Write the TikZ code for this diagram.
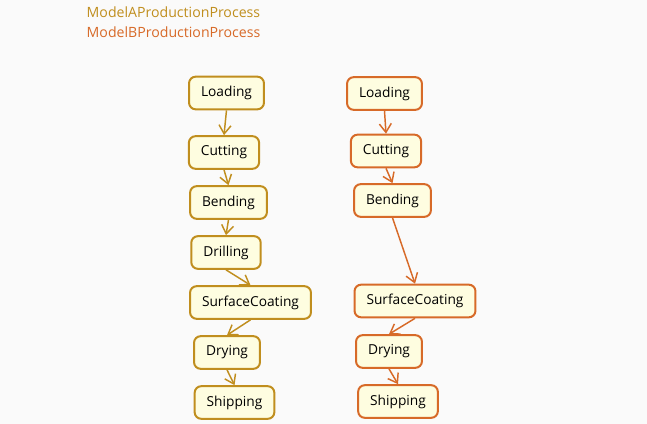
\documentclass[tikz,border=0pt]{standalone}
\usepackage{fontspec}
\setmainfont{Open Sans}
\usetikzlibrary{arrows.meta}
\definecolor{modelA}{RGB}{192,142,30}
\definecolor{modelB}{RGB}{215,106,40}
\definecolor{stepfill}{RGB}{254,253,224}
\tikzset{
  state/.style={draw,rounded corners=5pt,fill=stepfill,line width=1.5pt,
    minimum height=24.5pt,inner xsep=9pt,font=\fontsize{10.3}{12}\selectfont},
  flow/.style={line width=1.1pt,-{Straight Barb[length=6.5pt,width=9pt]}}
}
\begin{document}
\begin{tikzpicture}[x=0.75pt,y=-0.75pt]
\fill[black!2] (0,0) rectangle (647,424);
\useasboundingbox (0,0) rectangle (647,424);

\node[anchor=west,text=modelA,font=\fontsize{10.6}{12}\selectfont] (titleA) at (82,12.5) {ModelAProductionProcess};
\node[anchor=west,text=modelB,font=\fontsize{10.6}{12}\selectfont] (titleB) at (82,32.5) {ModelBProductionProcess};

% model A
\node[state,draw=modelA] (A1) at (226.5,93) {Loading};
\node[state,draw=modelA] (A2) at (224,152.5) {Cutting};
\node[state,draw=modelA] (A3) at (228.5,202.5) {Bending};
\node[state,draw=modelA] (A4) at (226,252.5) {Drilling};
\node[state,draw=modelA] (A5) at (250.5,302.5) {SurfaceCoating};
\node[state,draw=modelA] (A6) at (227,352.5) {Drying};
\node[state,draw=modelA] (A7) at (234.5,402.5) {Shipping};

% model B
\node[state,draw=modelB] (B1) at (384.5,93.5) {Loading};
\node[state,draw=modelB] (B2) at (386,151) {Cutting};
\node[state,draw=modelB] (B3) at (392.5,200.5) {Bending};
\node[state,draw=modelB] (B4) at (415,301) {SurfaceCoating};
\node[state,draw=modelB] (B5) at (389,351.5) {Drying};
\node[state,draw=modelB] (B6) at (398,401.5) {Shipping};

\draw [flow,modelA] (A1.south) -- (A2.north);
\draw [flow,modelA] (A2.south) -- (A3.north);
\draw [flow,modelA] (A3.south) -- (A4.north);
\draw [flow,modelA] (A4.south) -- (A5.north);
\draw [flow,modelA] (A5.south) -- (A6.north);
\draw [flow,modelA] (A6.south) -- (A7.north);

\draw [flow,modelB] (B1.south) -- (B2.north);
\draw [flow,modelB] (B2.south) -- (B3.north);
\draw [flow,modelB] (B3.south) -- (B4.north);
\draw [flow,modelB] (B4.south) -- (B5.north);
\draw [flow,modelB] (B5.south) -- (B6.north);
\end{tikzpicture}
\end{document}
